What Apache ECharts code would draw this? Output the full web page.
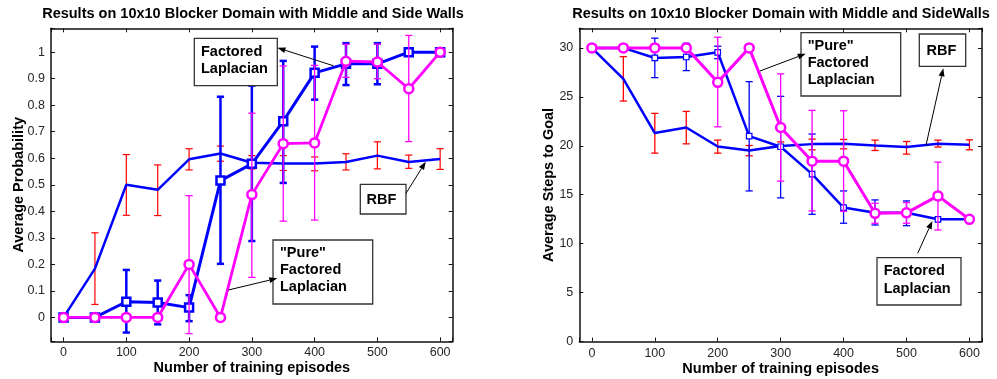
<!DOCTYPE html>
<html>
<head>
<meta charset="utf-8">
<script src="https://cdn.jsdelivr.net/npm/echarts@6/dist/echarts.min.js"></script>
<style>
html,body{margin:0;padding:0;background:#fff;}
#chart{width:997px;height:379px;}
</style>
</head>
<body>
<div id="chart"></div>
<script>
// ---------- data ----------
const episodes = [0, 50, 100, 150, 200, 250, 300, 350, 400, 450, 500, 550, 600];

// Left: Average Probability
const rbfProb   = [0, 0.184, 0.500, 0.481, 0.596, 0.618, 0.583, 0.580, 0.580, 0.586, 0.610, 0.586, 0.597];
const rbfProbLo = [null, 0.049, 0.385, 0.384, 0.556, 0.589, 0.560, 0.554, 0.553, 0.556, 0.560, 0.562, 0.558];
const rbfProbHi = [null, 0.319, 0.614, 0.575, 0.636, 0.646, 0.610, 0.610, 0.605, 0.617, 0.662, 0.612, 0.636];

const flProb   = [0, 0, 0.059, 0.056, 0.037, 0.516, 0.579, 0.740, 0.922, 0.956, 0.956, 1.0, 1.0];
const flProbLo = [null, null, -0.057, -0.026, -0.014, 0.202, 0.288, 0.507, 0.821, 0.876, 0.879, null, null];
const flProbHi = [null, null, 0.179, 0.139, 0.084, 0.832, 0.874, 0.967, 1.021, 1.034, 1.034, null, null];

const pureProb   = [0, 0, 0, 0, 0.200, 0, 0.463, 0.655, 0.658, 0.966, 0.963, 0.862, 1.0];
const pureProbLo = [null, null, null, null, -0.061, null, 0.151, 0.363, 0.367, 0.905, 0.900, 0.663, null];
const pureProbHi = [null, null, null, null, 0.459, null, 0.770, 0.948, 0.950, 1.030, 1.030, 1.063, null];

// Right: Average Steps to Goal
const rbfSteps   = [30, 26.83, 21.30, 21.87, 19.93, 19.52, 19.98, 20.17, 20.20, 20.03, 19.87, 20.20, 20.10];
const rbfStepsLo = [null, 24.57, 19.25, 20.20, 19.25, 18.98, 19.65, 19.59, 19.69, 19.52, 19.15, 19.87, 19.59];
const rbfStepsHi = [null, 29.11, 23.31, 23.51, 20.58, 20.03, 20.40, 20.68, 20.65, 20.58, 20.44, 20.58, 20.61];

const flSteps   = [30, 30, 28.97, 29.07, 29.55, 20.99, 19.90, 17.10, 13.69, 13.17, 13.17, 12.49, 12.49];
const flStepsLo = [null, null, 26.96, 27.68, 28.90, 15.39, 14.68, 13.00, 12.09, 11.91, 11.84, null, null];
const flStepsHi = [null, null, 30.99, 30.47, 30.17, 26.55, 25.05, 21.20, 15.39, 14.47, 14.37, null, null];

const pureSteps   = [30, 30, 30, 30, 26.48, 30, 21.87, 18.43, 18.43, 13.10, 13.15, 14.88, 12.49];
const pureStepsLo = [null, null, null, null, 21.94, null, 16.39, 13.35, 13.30, 12.09, 12.09, 11.40, null];
const pureStepsHi = [null, null, null, null, 31.09, null, 27.34, 23.62, 23.58, 14.13, 14.20, 18.33, null];

const titles = ['Results on 10x10 Blocker Domain with Middle and Side Walls',
                'Results on 10x10 Blocker Domain with Middle and SideWalls'];
const xName = 'Number of training episodes';
const yNames = ['Average Probability', 'Average Steps to Goal'];

// ---------- helpers ----------
const FONT = '"Liberation Sans", Arial, Helvetica, sans-serif';
const BLUE = '#0000ff', RED = '#ff0000', MAG = '#ff00ff';
const BOLD_SIZE = 14.5, TICK_SIZE = 12.5;

function pairs(ys) { return episodes.map((x, i) => [x, ys[i]]); }
function errData(lo, hi) {
  const out = [];
  episodes.forEach((x, i) => { if (lo[i] != null) out.push([x, lo[i], hi[i]]); });
  return out;
}
function errSeries(lo, hi, axis, color, width, cap, z) {
  return {
    type: 'custom', xAxisIndex: axis, yAxisIndex: axis, z: z, silent: true,
    encode: { x: 0, y: [1, 2] },
    data: errData(lo, hi),
    renderItem: function (params, api) {
      const x = api.value(0);
      const a = api.coord([x, api.value(1)]);
      const b = api.coord([x, api.value(2)]);
      const st = { stroke: color, lineWidth: width };
      return {
        type: 'group',
        children: [
          { type: 'line', shape: { x1: a[0], y1: a[1], x2: b[0], y2: b[1] }, style: st },
          { type: 'line', shape: { x1: a[0] - cap, y1: a[1], x2: a[0] + cap, y2: a[1] }, style: st },
          { type: 'line', shape: { x1: b[0] - cap, y1: b[1], x2: b[0] + cap, y2: b[1] }, style: st }
        ]
      };
    }
  };
}
function lineSeries(ys, axis, color, width, symbol, size, bw, z) {
  return {
    type: 'line', xAxisIndex: axis, yAxisIndex: axis, z: z, silent: true,
    data: pairs(ys),
    lineStyle: { color: color, width: width },
    symbol: symbol, symbolSize: size, showSymbol: symbol !== 'none',
    itemStyle: { color: '#ffffff', borderColor: color, borderWidth: bw },
    animation: false
  };
}

const tickLabel = { fontFamily: FONT, fontSize: TICK_SIZE, color: '#262626' };
const axLine = { show: true, onZero: false, lineStyle: { color: '#111', width: 1.5 } };
const axTick = { show: true, inside: true, length: 4, lineStyle: { color: '#111', width: 1 } };
const nameStyle = { fontFamily: FONT, fontSize: BOLD_SIZE, fontWeight: 'bold', color: '#000' };

function xAxes(grid) {
  return [
    { type: 'value', gridIndex: grid, min: -20, max: 620, splitNumber: 6, position: 'bottom',
      axisLine: axLine, axisTick: axTick, splitLine: { show: false },
      axisLabel: Object.assign({ margin: 5, formatter: v => (Math.abs(v % 100) < 1e-6 ? String(v) : '') }, tickLabel),
      name: xName, nameLocation: 'middle', nameGap: 19.5, nameMoveOverlap: false,
      nameTextStyle: Object.assign({ verticalAlign: 'top' }, nameStyle) },
    { type: 'value', gridIndex: grid, min: -20, max: 620, splitNumber: 6, position: 'top',
      axisLine: axLine, axisTick: axTick, splitLine: { show: false }, axisLabel: { show: false } }
  ];
}
function yAxes(grid, min, max, split, fmt, name, gap) {
  return [
    { type: 'value', gridIndex: grid, min: min, max: max, splitNumber: split, position: 'left',
      axisLine: axLine, axisTick: axTick, splitLine: { show: false },
      axisLabel: Object.assign({ margin: 6, formatter: fmt }, tickLabel),
      name: name, nameLocation: 'middle', nameGap: gap, nameRotate: 90, nameMoveOverlap: false,
      nameTextStyle: nameStyle },
    { type: 'value', gridIndex: grid, min: min, max: max, splitNumber: split, position: 'right',
      axisLine: axLine, axisTick: axTick, splitLine: { show: false }, axisLabel: { show: false } }
  ];
}
const fmtProb = v => {
  const t = v * 10;
  return Math.abs(t - Math.round(t)) < 1e-6 ? String(Math.round(t) / 10) : '';
};
const fmtSteps = v => (Math.abs(v % 5) < 1e-6 ? String(v) : '');

// annotation boxes & arrows
function box(x, y, w, h, lines, tx, ty, lh) {
  const ch = [{ type: 'rect', shape: { x: x, y: y, width: w, height: h },
                style: { fill: '#fff', stroke: '#333', lineWidth: 1.3 } }];
  lines.forEach((t, i) => ch.push({ type: 'text', x: tx, y: ty + i * lh,
    style: { text: t, font: 'bold 14.5px ' + FONT, fill: '#000', verticalAlign: 'middle', align: 'left' } }));
  return ch;
}
function arrow(x1, y1, x2, y2) {
  const ang = Math.atan2(y2 - y1, x2 - x1), L = 8, W = 3;
  const bx = x2 - L * Math.cos(ang), by = y2 - L * Math.sin(ang);
  const px = -Math.sin(ang) * W, py = Math.cos(ang) * W;
  return [
    { type: 'line', shape: { x1: x1, y1: y1, x2: bx, y2: by }, style: { stroke: '#000', lineWidth: 1 } },
    { type: 'polygon', shape: { points: [[x2, y2], [bx + px, by + py], [bx - px, by - py]] }, style: { fill: '#000' } }
  ];
}

const graphics = [].concat(
  box(194.3, 38.3, 83, 47.4, ['Factored', 'Laplacian'], 201, 52, 17.3),
  arrow(333.5, 65.8, 277.5, 47.8),
  box(360.3, 184.3, 45.7, 29.7, ['RBF'], 366.5, 199.5, 17.3),
  arrow(406, 193.3, 425.7, 161.7),
  box(273, 240, 99.7, 64, ['"Pure"', 'Factored', 'Laplacian'], 280, 252.5, 17.4),
  arrow(228.3, 290, 277.3, 278.3),
  box(801, 32.7, 99.7, 63.3, ['"Pure"', 'Factored', 'Laplacian'], 807.7, 46, 17.2),
  arrow(760, 71, 805.7, 53.7),
  box(919.3, 34, 46.4, 32.3, ['RBF'], 926.5, 50.7, 17.3),
  arrow(926, 145.3, 943.3, 68.3),
  box(877, 257.7, 84, 47.3, ['Factored', 'Laplacian'], 883.7, 271.3, 17.3),
  arrow(917.7, 253.3, 932.3, 221)
);

const chart = echarts.init(document.getElementById('chart'), null, { renderer: 'canvas' });
chart.setOption({
  animation: false,
  backgroundColor: '#fff',
  title: [
    { text: titles[0], left: 253, top: 6, padding: 0, textAlign: 'center',
      textStyle: { fontFamily: FONT, fontSize: BOLD_SIZE, fontWeight: 'bold', color: '#000' } },
    { text: titles[1], left: 781, top: 6, padding: 0, textAlign: 'center',
      textStyle: { fontFamily: FONT, fontSize: BOLD_SIZE, fontWeight: 'bold', color: '#000' } }
  ],
  grid: [
    { left: 51, top: 28.3, width: 401.7, height: 313, containLabel: false, outerBoundsMode: 'none' },
    { left: 579.3, top: 28.3, width: 402.7, height: 313.3, containLabel: false, outerBoundsMode: 'none' }
  ],
  xAxis: [].concat(xAxes(0), xAxes(1)),
  yAxis: [].concat(
    yAxes(0, -0.09, 1.09, 11, fmtProb, yNames[0], 25),
    yAxes(1, 0, 32, 6, fmtSteps, yNames[1], 23)
  ),
  series: [
    // left chart
    errSeries(rbfProbLo, rbfProbHi, 0, RED, 1.2, 3.6, 2),
    lineSeries(rbfProb, 0, BLUE, 2.5, 'none', 0, 0, 3),
    errSeries(flProbLo, flProbHi, 0, BLUE, 2.5, 3.6, 4),
    lineSeries(flProb, 0, BLUE, 3, 'rect', 8, 2.5, 5),
    errSeries(pureProbLo, pureProbHi, 0, MAG, 1.3, 3.6, 6),
    lineSeries(pureProb, 0, MAG, 2.8, 'circle', 9, 2.5, 7),
    // right chart
    errSeries(rbfStepsLo, rbfStepsHi, 2, RED, 1.3, 3.6, 2),
    lineSeries(rbfSteps, 2, BLUE, 2.5, 'none', 0, 0, 3),
    errSeries(flStepsLo, flStepsHi, 2, BLUE, 1.3, 3.6, 4),
    lineSeries(flSteps, 2, BLUE, 2.5, 'rect', 5.5, 1.2, 5),
    errSeries(pureStepsLo, pureStepsHi, 2, MAG, 1.3, 3.6, 6),
    lineSeries(pureSteps, 2, MAG, 3, 'circle', 9, 2.5, 7)
  ],
  graphic: graphics.map(g => Object.assign({ z: 100 }, g))
});
</script>
</body>
</html>
